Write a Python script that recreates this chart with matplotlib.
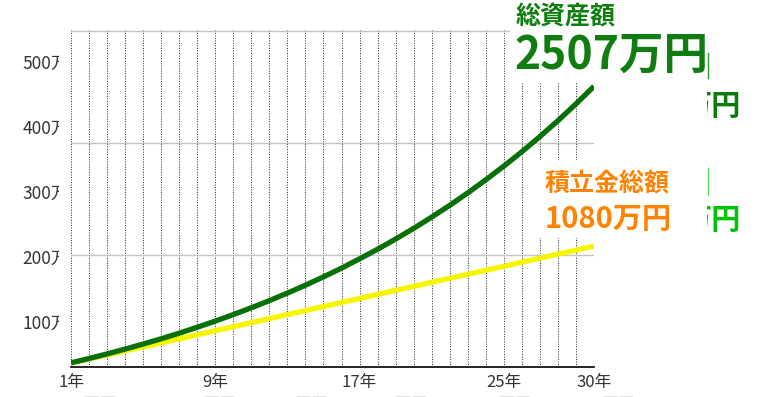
import numpy as np
from matplotlib import pyplot as plt
from matplotlib import patches, lines

plt.rcParams['font.family'] = ['Noto Sans CJK JP', 'DejaVu Sans']

# values in 万円, one per year
years = list(range(1, 31))
total_assets = [37, 76, 117, 160, 205, 252, 302, 355, 410, 468,
                529, 593, 660, 731, 805, 883, 966, 1052, 1143, 1238,
                1339, 1444, 1555, 1672, 1794, 1923, 2058, 2200, 2350, 2507]
contributions = [36, 72, 108, 144, 180, 216, 252, 288, 324, 360,
                 396, 432, 468, 504, 540, 576, 612, 648, 684, 720,
                 756, 792, 828, 864, 900, 936, 972, 1008, 1044, 1080]
xtick_years = [1, 9, 17, 25, 30]
xtick_labels = ['1年', '9年', '17年', '25年', '30年']
grid_values = [1000, 2000, 3000]
ytick_values = [100, 200, 300, 400, 500]
ytick_labels = ['100万', '200万', '300万', '400万', '500万']
bottom_labels = ['36万円', '324万円', '612万円', '900万円', '1080万円', '2507万円']

W, H = 760, 397

def fx(x):
    return x / W

def fy(y):
    return 1 - y / H

def white_box(fig, x0, y0, x1, y1):
    fig.add_artist(patches.Rectangle((fx(x0), fy(y1)), fx(x1) - fx(x0), fy(y0) - fy(y1),
                                     transform=fig.transFigure, facecolor='white',
                                     edgecolor='none', zorder=5))

fig = plt.figure(figsize=(W / 100, H / 100), dpi=100)
ax = fig.add_axes([fx(71), fy(367), fx(594) - fx(71), fy(30) - fy(367)])

ax.plot(years, contributions, color='#f6f600', lw=3.8, solid_capstyle='butt', zorder=3)
ax.plot(years, total_assets, color='#077007', lw=3.8, solid_capstyle='butt', zorder=4)

ax.set_xlim(1, 30)
ax.set_ylim(0, 3010)
ax.set_xticks(xtick_years, xtick_labels)
ax.set_xticks(years, minor=True)
ax.tick_params(axis='x', which='both', length=0, pad=5, labelsize=12, labelcolor='#333333')
ax.grid(axis='x', which='both', color='#222222', linestyle=(0, (1, 1.6)), linewidth=0.7)
ax.set_yticks(grid_values)
ax.tick_params(axis='y', length=0, labelleft=False)
ax.grid(axis='y', color='#c4c4c4', linewidth=1)
for s in ['left', 'right', 'top']:
    ax.spines[s].set_visible(False)
ax.spines['bottom'].set_color('black')
ax.spines['bottom'].set_linewidth(1.2)

# left labels on their own scale
ax2 = ax.twinx()
ax2.set_ylim(30.8, 549.2)
ax2.yaxis.tick_left()
ax2.set_yticks(ytick_values, ytick_labels)
ax2.tick_params(axis='y', length=0, pad=1.5, labelsize=12.5, labelcolor='#333333')
for s in ax2.spines.values():
    s.set_visible(False)

# clipped pieces
white_box(fig, 58.5, 40, 70, 340)
white_box(fig, 510, 0, 707, 83)
white_box(fig, 530, 160, 707, 238)
white_box(fig, 596, 83, 707, 250)

fig.text(fx(741), fy(106), '万円', ha='right', va='center', fontsize=21,
         fontweight='bold', color='#0a7a0a', zorder=4)
fig.text(fx(741), fy(220), '万円', ha='right', va='center', fontsize=21,
         fontweight='bold', color='#00c400', zorder=4)
fig.add_artist(lines.Line2D([fx(708), fx(708)], [fy(53), fy(78)], color='#2a9a2a',
                            lw=1, transform=fig.transFigure, zorder=6))
fig.add_artist(lines.Line2D([fx(708), fx(708)], [fy(168), fy(195)], color='#55dd55',
                            lw=1, transform=fig.transFigure, zorder=6))

fig.text(fx(516), fy(17), '総資産額', ha='left', va='center', fontsize=18,
         fontweight='bold', color='#0f7d0f', zorder=10)
fig.text(fx(514), fy(56), '2507万円', ha='left', va='center', fontsize=32,
         fontweight='bold', color='#0f7d0f', zorder=10)
fig.text(fx(545), fy(184), '積立金総額', ha='left', va='center', fontsize=18,
         fontweight='bold', color='#ff8200', zorder=10)
fig.text(fx(545), fy(219), '1080万円', ha='left', va='center', fontsize=21,
         fontweight='bold', color='#ff8200', zorder=10)

# row of labels that sits mostly below the bottom edge
for x, t in zip([91, 207, 298, 399, 498, 601], bottom_labels):
    fig.text(fx(x), fy(404), t, ha='center', va='center', fontsize=11.5, color='#333333')

fig.savefig('out.png', dpi=100)
